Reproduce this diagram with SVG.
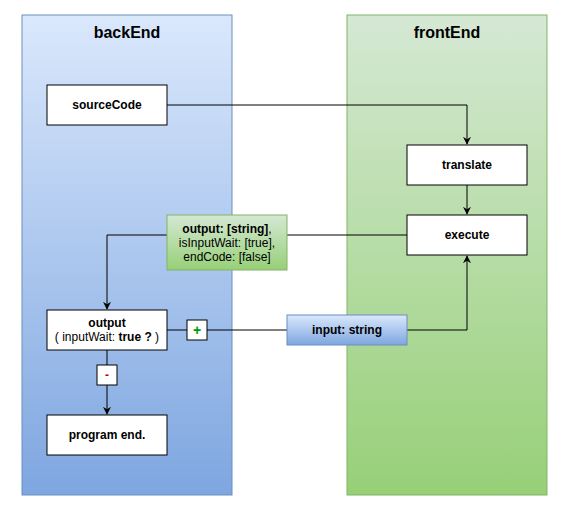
<svg xmlns="http://www.w3.org/2000/svg" width="568" height="518" viewBox="0 0 568 518">
<style>
text{font-family:"Liberation Sans",Arial,sans-serif;font-size:12px;fill:#000;text-anchor:middle}
.b{font-weight:bold}
.t{font-size:16px;font-weight:bold}
.box{fill:#fff;stroke:#000;stroke-width:1}
.e{fill:none;stroke:#000;stroke-width:1}
</style>
<defs>
<linearGradient id="gb" x1="0" y1="0" x2="0" y2="1"><stop offset="0" stop-color="#dae8fc"/><stop offset="1" stop-color="#7ea6e0"/></linearGradient>
<linearGradient id="gg" x1="0" y1="0" x2="0" y2="1"><stop offset="0" stop-color="#d5e8d4"/><stop offset="1" stop-color="#97d077"/></linearGradient>
<marker id="ar" viewBox="0 0 10 10" refX="9" refY="5" markerWidth="8" markerHeight="8" markerUnits="userSpaceOnUse" orient="auto"><path d="M0,0 L10,5 L0,10 L3,5 Z" fill="#000"/></marker>
</defs>
<rect width="568" height="518" fill="#fff"/>
<g id="backEnd"><rect x="22" y="15" width="210" height="480" fill="url(#gb)" stroke="#6c8ebf"/><text class="t" x="127" y="38">backEnd</text></g>
<g id="frontEnd"><rect x="347" y="15" width="200" height="480" fill="url(#gg)" stroke="#82b366"/><text class="t" x="447" y="38">frontEnd</text></g>
<g id="connectors">
<path class="e" d="M167,105 H467 V144" marker-end="url(#ar)"/>
<path class="e" d="M467,185 V214" marker-end="url(#ar)"/>
<path class="e" d="M407,235 H107 V309" marker-end="url(#ar)"/>
<path class="e" d="M167,330 H467 V256" marker-end="url(#ar)"/>
<path class="e" d="M107,350 V414" marker-end="url(#ar)"/>
</g>
<g id="sourceCode"><rect class="box" x="47" y="85" width="120" height="40"/><text class="b" x="107" y="109">sourceCode</text></g>
<g id="translate"><rect class="box" x="407" y="145" width="120" height="40"/><text class="b" x="467" y="169">translate</text></g>
<g id="execute"><rect class="box" x="407" y="215" width="120" height="40"/><text class="b" x="467" y="239">execute</text></g>
<g id="output"><rect class="box" x="47" y="310" width="120" height="40"/><text class="b" x="107" y="327">output</text><text x="107" y="341">( inputWait: <tspan class="b">true ?</tspan> )</text></g>
<g id="programEnd"><rect class="box" x="47" y="415" width="120" height="40"/><text class="b" x="107" y="439">program end.</text></g>
<g id="outLabel"><rect x="167" y="215" width="120" height="55" fill="url(#gg)" stroke="#82b366"/><text x="227" y="233"><tspan class="b">output: [string]</tspan>,</text><text x="227" y="247">isInputWait: [true],</text><text x="227" y="261">endCode: [false]</text></g>
<g id="inputLabel"><rect x="287" y="315" width="120" height="30" fill="url(#gb)" stroke="#6c8ebf"/><text class="b" x="347" y="334">input: string</text></g>
<g id="plus"><rect class="box" x="187" y="320" width="20" height="20"/><text class="b" x="197" y="335" style="fill:#009900;font-size:14px">+</text></g>
<g id="minus"><rect class="box" x="97" y="365" width="20" height="20"/><text class="b" x="107" y="379" style="fill:#cc0000">-</text></g>
</svg>
